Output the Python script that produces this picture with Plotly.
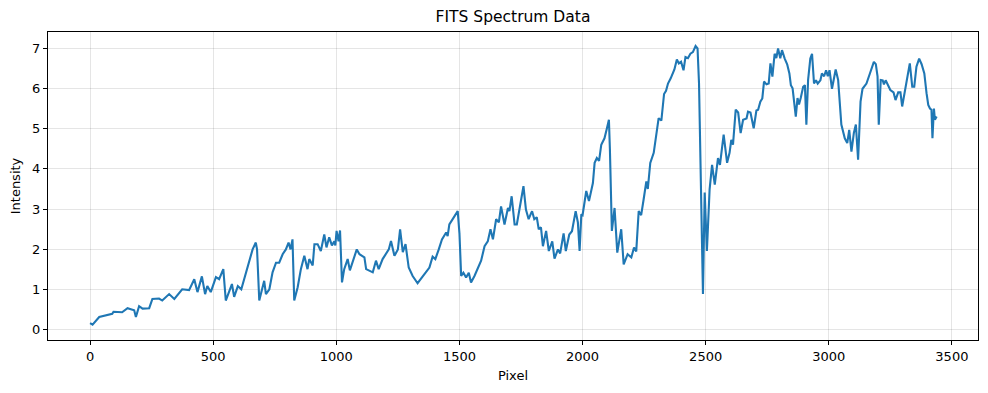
import plotly.graph_objects as go

pixel = [0,10,37,90,95,130,152,179,186,199,213,240,253,280,293,321,342,374,402,423,436,454,467,476,490,511,524,541,551,565,576,585,600,614,622,646,660,673,678,687,700,707,714,728,741,755,768,782,795,806,814,822,829,843,
         856,870,883,890,904,911,924,931,937,951,960,971,982,992,996,1001,1009,1015,1023,1032,1046,1055,1066,1083,1094,1114,1121,1134,1148,1161,1172,1188,1202,1213,1222,1236,1250,1259,1270,1281,1294,1310,1330,1351,1364,1378,1391,1402,1416,1429,1446,1452,1459,1473,1486,1493,1500,1507,1516,1527,1538,1547,1561,1575,1588,1602,1615,1626,1636,1649,1660,1669,1683,1697,1703,1712,1724,1733,1743,1760,1770,1781,1791,1795,1804,1814,1822,
         1831,1839,1852,1863,1877,1886,1900,1909,1923,1932,1946,1957,1972,1981,1988,1995,2000,2015,2026,2042,
         2049,2058,2067,2076,2089,2099,2107,2111,2119,2130,2141,2157,2167,2183,2198,2209,2218,2228,2238,2248,2259,2265,2275,2289,2299,2309,2320,2331,2339,2347,2358,2365,2373,2383,2391,2400,2410,2418,2428,2438,2448,2459,2467,2473,2480,2489,2496,2505,2516,2526,2537,2550,2558,2573,2587,2597,2604,2611,2622,2632,2642,2652,2666,2672,2682,2695,2706,2713,2722,2730,2737,2747,2756,2763,2771,2780,2787,2794,2803,2810,2821,2831,2840,2846,2853,2859,2866,2873,2879,2886,2896,2903,2909,2916,2925,2932,2940,2948,2955,2966,2972,2981,2989,2996,3003,3013,3028,3038,3051,3065,3075,3083,3092,3102,3110,3119,3129,3137,3153,3167,3183,3191,3198,3203,3211,3219,3224,3231,3240,3250,3263,3271,3282,3291,3298,3309,3316,3329,3339,3347,3356,3367,3377,3388,3397,3404,3411,3417,3421,3427,3431,3438]

intensity = [0.17,0.13,0.32,0.40,0.45,0.44,0.54,0.49,0.32,0.59,0.53,0.54,0.77,0.78,0.73,0.89,0.77,1.01,0.99,1.26,0.94,1.33,0.89,1.09,0.94,1.31,1.26,1.51,0.73,0.94,1.14,0.82,1.09,1.01,1.18,1.67,2.0,2.17,2.0,0.73,1.01,1.22,0.89,1.01,1.43,1.67,1.67,1.88,2.0,2.17,2.0,2.25,0.73,1.06,
             1.51,1.84,1.51,1.76,1.6,2.13,2.13,2.05,1.96,2.37,2.05,2.3,2.1,2.2,2.1,2.46,2.2,2.47,1.18,1.51,1.76,1.48,1.67,2.0,1.88,1.8,1.51,1.47,1.43,1.72,1.51,1.76,1.88,2.0,2.21,1.84,2.0,2.5,1.93,2.13,1.55,1.34,1.16,1.34,1.42,1.55,1.82,1.76,2.0,2.25,2.42,2.33,2.62,2.75,2.87,2.95,2.4,1.34,1.42,1.3,1.42,1.18,1.34,1.55,1.72,2.08,2.2,2.5,2.25,2.75,2.67,3.07,2.62,3.03,2.95,3.32,2.62,2.62,2.95,3.57,2.99,2.75,2.9,2.95,2.75,2.8,2.5,
             2.55,2.08,2.46,1.96,2.2,1.77,2.0,1.9,2.4,1.96,2.37,2.45,2.95,2.67,1.96,2.87,2.85,3.45,3.2,3.65,
             4.15,4.27,4.2,4.6,4.76,5.01,5.22,4.5,2.46,3.03,1.92,2.5,1.63,1.88,1.8,2.05,1.95,2.95,2.85,3.24,3.69,3.5,4.15,4.4,4.89,5.26,5.2,5.86,5.94,6.12,6.25,6.37,6.47,6.72,6.62,6.66,6.45,6.78,6.75,6.86,6.9,7.05,6.99,6.12,3.73,0.89,3.41,1.96,3.49,4.1,3.61,4.27,4.1,4.85,4.15,4.4,4.72,4.6,5.47,5.4,4.89,5.22,5.25,5.42,5.4,5.01,5.45,5.47,5.67,5.75,6.17,6.1,6.12,6.62,6.29,6.86,6.75,6.99,6.75,6.95,6.74,6.6,6.37,6.08,6.0,5.71,5.3,5.76,5.6,5.76,6.04,6.08,5.1,6.21,6.74,6.86,6.12,6.2,6.12,6.2,6.37,6.3,6.45,6.3,6.45,5.99,6.47,6.21,5.1,4.76,4.64,4.97,4.43,4.9,5.1,4.23,5.67,5.99,6.12,6.37,6.66,6.6,6.3,5.1,6.21,6.2,6.1,6.2,6.1,5.96,5.9,5.71,5.9,5.9,5.55,5.9,6.21,6.62,6.04,6.04,6.54,6.74,6.6,6.37,5.88,5.59,5.5,5.47,4.76,5.5,5.22,5.3]

x_ticks = [0, 500, 1000, 1500, 2000, 2500, 3000, 3500]
y_ticks = [0, 1, 2, 3, 4, 5, 6, 7]

font = "DejaVu Sans"
fig = go.Figure(go.Scatter(x=pixel, y=intensity, mode="lines",
                           line=dict(color="#1f77b4", width=2.1)))

axis_common = dict(showline=True, linecolor="black", linewidth=1, mirror=True,
                   ticks="outside", ticklen=4, tickcolor="black",
                   showgrid=True, gridcolor="rgba(0,0,0,0.1)", gridwidth=1,
                   zeroline=False, automargin=False,
                   tickfont=dict(family=font, size=13, color="black"))

fig.update_layout(
    width=988, height=393,
    margin=dict(l=48, r=10, t=32, b=53),
    paper_bgcolor="white", plot_bgcolor="white",
    showlegend=False,
    title=dict(text="FITS Spectrum Data", x=0.5, xref="paper", xanchor="center",
               y=1 - 17 / 393, yref="container", yanchor="middle",
               font=dict(family=font, size=15.5, color="black")),
    xaxis=dict(range=[-171, 3606], tickvals=x_ticks, ticktext=[str(v) for v in x_ticks],
               title=dict(text="Pixel", font=dict(family=font, size=13, color="black"), standoff=8),
               **axis_common),
    yaxis=dict(range=[-0.25, 7.40], tickvals=y_ticks, ticktext=[str(v) for v in y_ticks],
               title=dict(text="Intensity", font=dict(family=font, size=13, color="black"), standoff=8),
               **axis_common),
)

fig.write_html("out.html", config={"displayModeBar": False},
               post_script="document.body.style.margin='0';document.body.style.overflow='hidden';")
